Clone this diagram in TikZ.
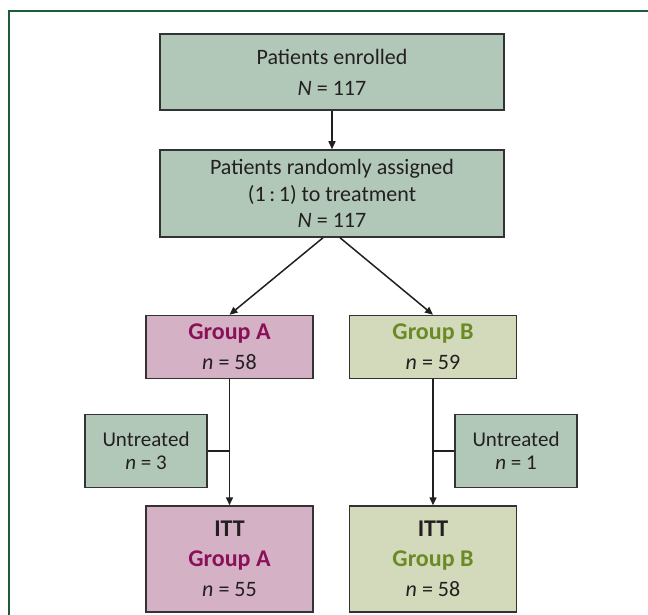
\documentclass[tikz,border=0pt]{standalone}
\usepackage{fontspec}
\setmainfont{Carlito}
\usetikzlibrary{arrows.meta}
\definecolor{frameg}{HTML}{1D5C38}
\definecolor{boxg}{HTML}{B1C8B9}
\definecolor{boxp}{HTML}{D5B1C6}
\definecolor{boxo}{HTML}{D3DABC}
\definecolor{txta}{HTML}{8A1058}
\definecolor{txtb}{HTML}{6A8A24}
\definecolor{txt}{HTML}{231F20}
\definecolor{edge}{HTML}{333333}
\newcommand{\grp}[2]{\textcolor{#1}{\fontsize{24}{30}\selectfont\textbf{#2}}}
\tikzset{
  box/.style={draw=edge, line width=1.5pt, rectangle, align=center, inner sep=0pt,
    text=txt, font=\fontsize{22}{26.5}\selectfont},
  gbox/.style={box, fill=boxg},
  pbox/.style={box, fill=boxp},
  obox/.style={box, fill=boxo},
  conn/.style={draw=txt, line width=1.5pt},
  arr/.style={conn, -{Triangle[length=8pt,width=7pt]}},
  tie/.style={draw=txt, line width=2.6pt}
}
\begin{document}
\begin{tikzpicture}[x=1pt, y=-1pt]
\useasboundingbox (0,0) rectangle (648,615);
\draw[frameg, line width=2.6pt] (9,615) -- (9,11) -- (648,11);

\node[gbox, minimum width=344pt, minimum height=76pt,
  font=\fontsize{22}{31}\selectfont] (enr) at (332,72)
  {Patients enrolled\\\textit{N} = 117};
\node[gbox, minimum width=344pt, minimum height=87pt] (rnd) at (332,193.5)
  {Patients randomly assigned\\(1\,:\,1) to treatment\\\textit{N} = 117};
\node[pbox, minimum width=167pt, minimum height=63pt,
  font=\fontsize{22}{30}\selectfont] (ga) at (229.5,347)
  {\grp{txta}{Group A}\\\textit{n} = 58};
\node[obox, minimum width=167pt, minimum height=63pt,
  font=\fontsize{22}{30}\selectfont] (gb) at (433,347)
  {\grp{txtb}{Group B}\\\textit{n} = 59};
\node[gbox, minimum width=122pt, minimum height=73pt,
  font=\fontsize{21}{23}\selectfont] (ua) at (146,451)
  {Untreated\\\textit{n} = 3};
\node[gbox, minimum width=122pt, minimum height=73pt,
  font=\fontsize{21}{23}\selectfont] (ub) at (516,451)
  {Untreated\\\textit{n} = 1};
\node[pbox, minimum width=167pt, minimum height=106pt,
  font=\fontsize{22}{30}\selectfont] (ia) at (229.5,559)
  {{\fontsize{24}{30}\selectfont\textbf{ITT}}\\\grp{txta}{Group A}\\\textit{n} = 55};
\node[obox, minimum width=167pt, minimum height=106pt,
  font=\fontsize{22}{30}\selectfont] (ib) at (433,559)
  {{\fontsize{24}{30}\selectfont\textbf{ITT}}\\\grp{txtb}{Group B}\\\textit{n} = 58};

\draw[arr] (enr.south) -- (rnd.north);
\draw[arr] ([xshift=-9pt]rnd.south) -- (ga.north);
\draw[arr] ([xshift=8pt]rnd.south) -- (gb.north);
\draw[arr] (ga.south) -- (ia.north);
\draw[arr] (gb.south) -- (ib.north);
\draw[tie] (ua.east) -- (ua.east -| ga.south);
\draw[tie] (ub.west) -- (ub.west -| gb.south);
\end{tikzpicture}
\end{document}
